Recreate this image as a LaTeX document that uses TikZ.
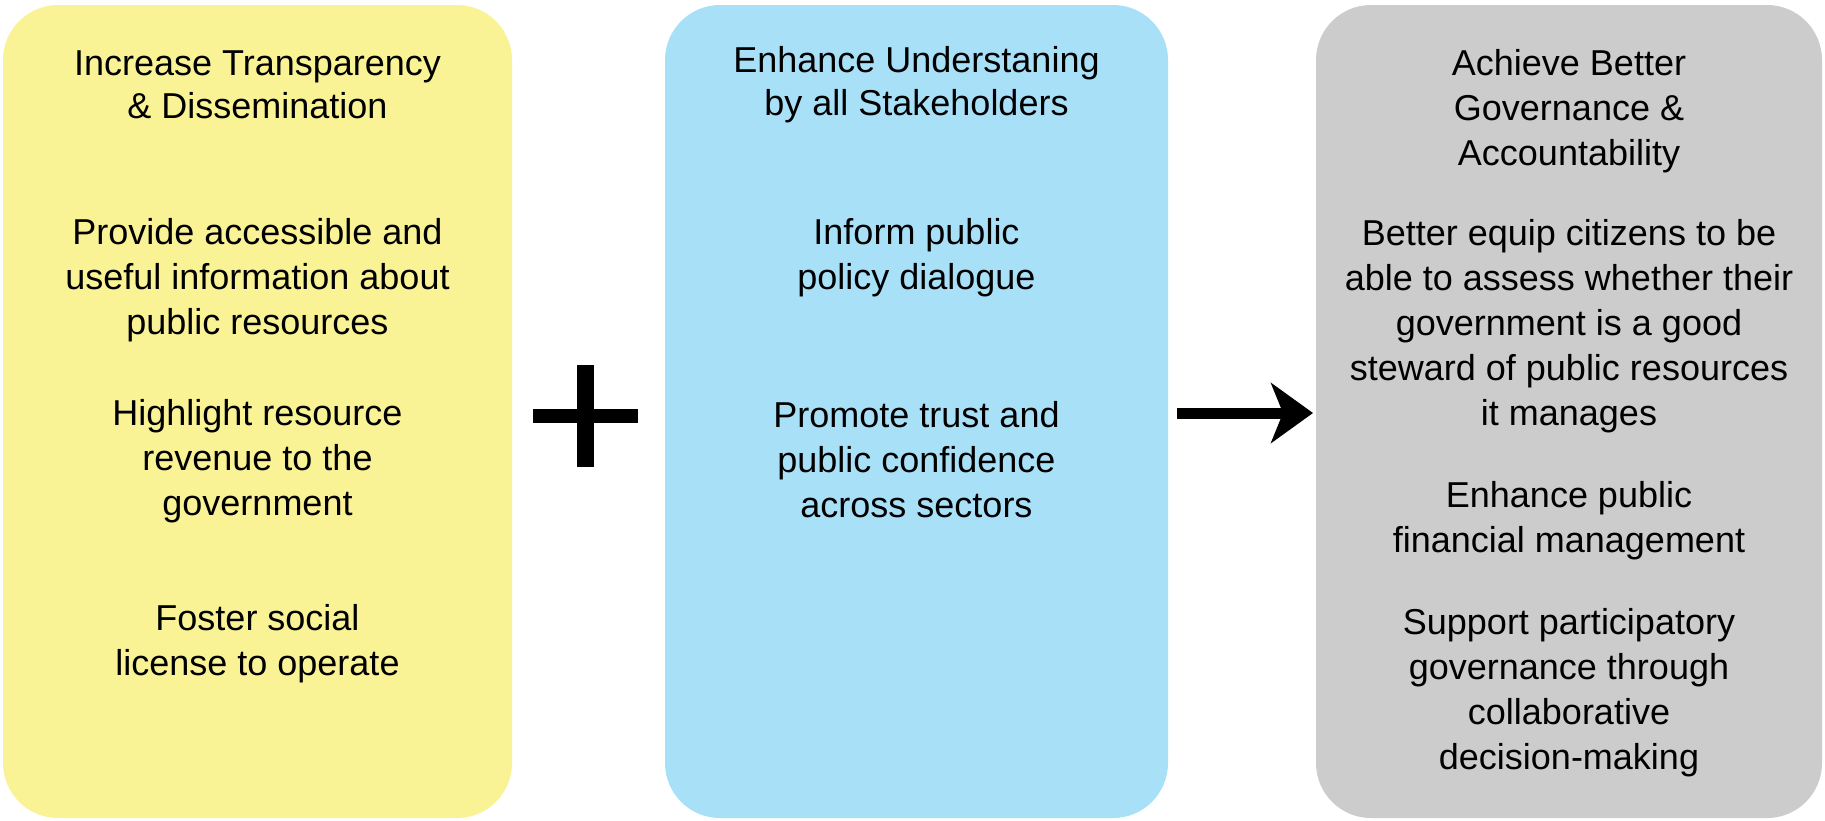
\documentclass[tikz,border=0pt]{standalone}
\usepackage{fontspec}
\setmainfont{Liberation Sans}
\usetikzlibrary{arrows.meta,calc}
\definecolor{boxyellow}{RGB}{249,243,150}
\definecolor{boxblue}{RGB}{168,224,248}
\definecolor{boxgray}{RGB}{204,204,204}
\begin{document}
\begin{tikzpicture}[x=1pt,y=-1pt,
  panel/.style={rounded corners=55pt, inner sep=0pt, outer sep=0pt, minimum height=813pt},
  txt/.style={align=center, font=\fontsize{36}{45}\selectfont, text=black, inner sep=0pt},
  bigarrow/.style={line width=11pt, -{Stealth[length=42pt, width=60pt, inset=12pt]}}
]
\useasboundingbox (0,0) rectangle (1825,820);
\fill[white] (0,0) rectangle (1825,820);

\node[panel, fill=boxyellow, minimum width=509pt] (yellow) at (257.5,411.5) {};
\node[panel, fill=boxblue, minimum width=503pt] (blue) at (916.5,411.5) {};
\node[panel, fill=boxgray, minimum width=506pt] (gray) at (1569,411.5) {};

% yellow texts
\node[txt, font=\fontsize{36}{43}\selectfont] (y1) at (257.5,85) {Increase Transparency\\ \& Dissemination};
\node[txt] (y2) at (257.5,280) {Provide accessible and\\ useful information about\\ public resources};
\node[txt] (y3) at (257.5,461) {Highlight resource\\ revenue to the\\ government};
\node[txt] (y4) at (257.5,644) {Foster social\\ license to operate};

% blue texts
\node[txt, font=\fontsize{36}{43}\selectfont] (b1) at (916.5,85) {Enhance Understaning\\ by all Stakeholders};
\node[txt] (b2) at (916.5,258) {Inform public\\ policy dialogue};
\node[txt] (b3) at (916.5,460) {Promote trust and\\ public confidence\\ across sectors};

% gray texts
\node[txt] (g1) at (1569,111) {Achieve Better\\ Governance \&\\ Accountability};
\node[txt] (g2) at (1569,326) {Better equip citizens to be\\ able to assess whether their\\ government is a good\\ steward of public resources\\ it manages};
\node[txt] (g3) at (1569,521) {Enhance public\\ financial management};
\node[txt] (g4) at (1569,693) {Support participatory\\ governance through\\ collaborative\\ decision-making};

% plus sign
\coordinate (plus) at (585,416);
\draw[line width=17pt] ($(plus)+(0,-51)$) -- ($(plus)+(0,51)$);
\draw[line width=14pt] ($(plus)+(-52,0)$) -- ($(plus)+(53,0)$);

% arrow
\draw[bigarrow] ($(blue.east)+(9,1.5)$) -- ($(gray.west)+(-3,1.5)$);
\end{tikzpicture}
\end{document}
